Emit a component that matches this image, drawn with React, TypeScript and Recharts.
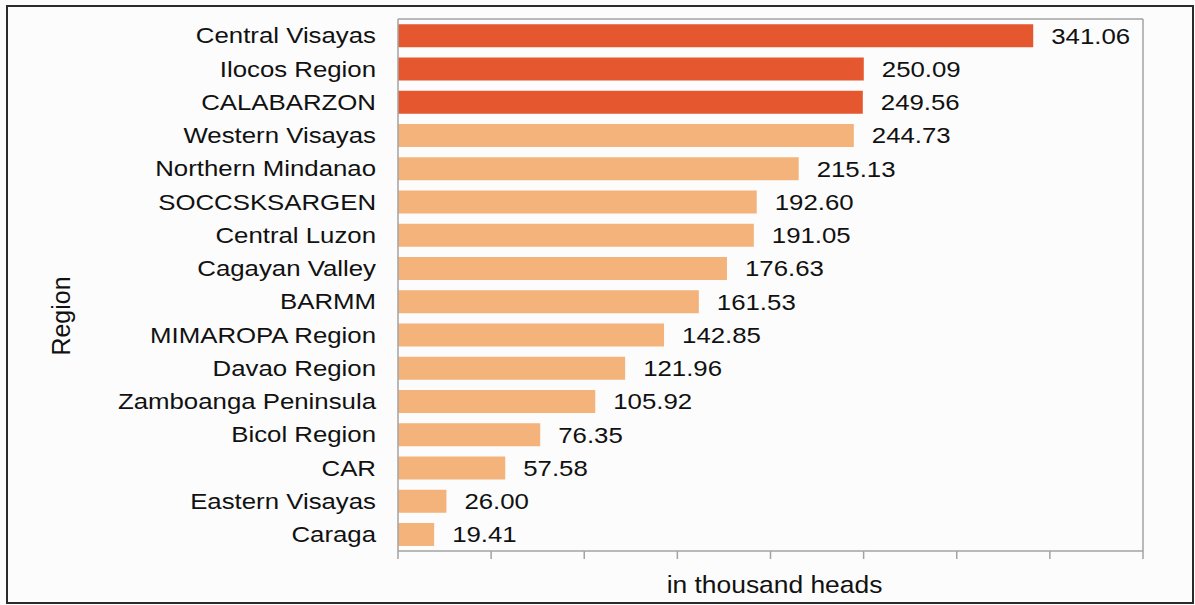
import React from 'react';
import {
  BarChart,
  Bar,
  XAxis,
  YAxis,
  CartesianGrid,
  Cell,
  LabelList,
  Label,
} from 'recharts';

const regions = [
  'Central Visayas',
  'Ilocos Region',
  'CALABARZON',
  'Western Visayas',
  'Northern Mindanao',
  'SOCCSKSARGEN',
  'Central Luzon',
  'Cagayan Valley',
  'BARMM',
  'MIMAROPA Region',
  'Davao Region',
  'Zamboanga Peninsula',
  'Bicol Region',
  'CAR',
  'Eastern Visayas',
  'Caraga',
];

const heads = [
  341.06, 250.09, 249.56, 244.73, 215.13, 192.6, 191.05, 176.63,
  161.53, 142.85, 121.96, 105.92, 76.35, 57.58, 26.0, 19.41,
];

const xTicks = [0, 50, 100, 150, 200, 250, 300, 350, 400];

const data = regions.map((region, i) => ({ region, value: heads[i] }));

// the scan is a bit wider than tall, so the text gets a horizontal stretch
const STRETCH = 1.2;
const FONT = '"Liberation Sans", Arial, sans-serif';
const TOP_N = 3;
const RED = '#e5572f';
const ORANGE = '#f3b37a';
const AXIS = '#a3a3a3';

const RegionTick = ({ x, y, payload }: any) => (
  <text
    transform={`translate(${x},${y}) scale(${STRETCH},1)`}
    textAnchor="end"
    dy="0.36em"
    fontSize={21.5}
    fontFamily={FONT}
    fill="#111"
  >
    {payload.value}
  </text>
);

const ValueLabel = ({ x, y, width, height, value }: any) => (
  <text
    transform={`translate(${Number(x) + Number(width) + 18},${Number(y) + Number(height) / 2}) scale(${STRETCH},1)`}
    dy="0.36em"
    fontSize={21.5}
    fontFamily={FONT}
    fill="#111"
  >
    {Number(value).toFixed(2)}
  </text>
);

const XTitle = ({ viewBox }: any) => (
  <text
    transform={`translate(${viewBox.x + viewBox.width / 2 + 4},${viewBox.y + viewBox.height - 12}) scale(1.1,1)`}
    textAnchor="middle"
    fontSize={24}
    fontFamily={FONT}
    fill="#111"
  >
    in thousand heads
  </text>
);

const YTitle = ({ viewBox }: any) => (
  <text
    transform={`translate(${viewBox.x + 61},${viewBox.y + viewBox.height / 2 + 31}) rotate(-90)`}
    textAnchor="middle"
    dy="0.36em"
    fontSize={25}
    fontFamily={FONT}
    fill="#111"
  >
    Region
  </text>
);

export default function App() {
  return (
    <div style={{ position: 'absolute', left: 0, top: 0, width: 1195, height: 605, background: '#fcfcfc' }}>
      <BarChart
        width={1195}
        height={605}
        data={data}
        layout="vertical"
        margin={{ top: 19, right: 52, left: 0, bottom: 0 }}
        barCategoryGap="16%"
      >
        <CartesianGrid
          stroke={AXIS}
          strokeWidth={1.5}
          horizontalCoordinatesGenerator={({ offset }: any) => [offset.top]}
          verticalCoordinatesGenerator={({ offset }: any) => [offset.left + offset.width]}
        />
        <XAxis
          type="number"
          domain={[0, 400]}
          ticks={xTicks}
          tickFormatter={() => ''}
          tickSize={8}
          height={54}
          axisLine={{ stroke: AXIS, strokeWidth: 1.5 }}
          tickLine={{ stroke: AXIS, strokeWidth: 1.5 }}
        >
          <Label content={<XTitle />} />
        </XAxis>
        <YAxis
          type="category"
          dataKey="region"
          width={398}
          interval={0}
          tickLine={false}
          tickSize={0}
          tickMargin={22}
          tick={<RegionTick />}
          axisLine={{ stroke: AXIS, strokeWidth: 1.5 }}
        >
          <Label content={<YTitle />} />
        </YAxis>
        <Bar dataKey="value" isAnimationActive={false}>
          {data.map((d, i) => (
            <Cell key={d.region} fill={i < TOP_N ? RED : ORANGE} />
          ))}
          <LabelList dataKey="value" content={<ValueLabel />} />
        </Bar>
      </BarChart>
      <div
        style={{
          position: 'absolute',
          left: 6,
          top: 5,
          width: 1188,
          height: 599,
          boxSizing: 'border-box',
          border: '2px solid #2b2b2b',
          pointerEvents: 'none',
        }}
      />
    </div>
  );
}
